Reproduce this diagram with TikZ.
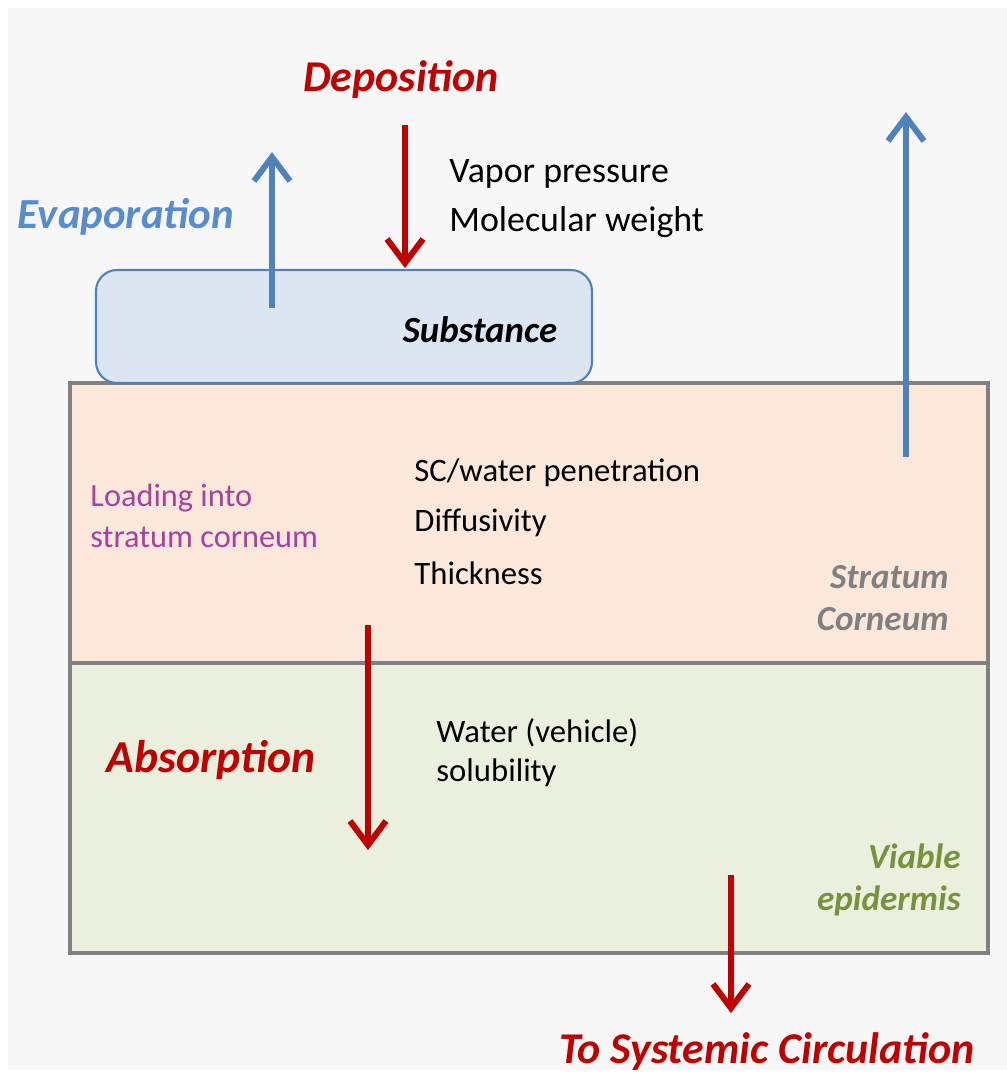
\documentclass[tikz,border=0pt]{standalone}
\usepackage{fontspec}
\setmainfont{Carlito}
\usepackage{xcolor}
\usetikzlibrary{arrows.meta}
\definecolor{panelgray}{RGB}{247,247,247}
\definecolor{deepred}{RGB}{192,0,0}
\definecolor{steelblue}{RGB}{79,129,189}
\definecolor{labelblue}{RGB}{88,140,205}
\definecolor{subfill}{RGB}{220,230,242}
\definecolor{scfill}{RGB}{252,232,218}
\definecolor{vefill}{RGB}{235,240,222}
\definecolor{edgegray}{RGB}{128,128,128}
\definecolor{plum}{RGB}{165,65,165}
\definecolor{olive}{RGB}{118,146,60}

\begin{document}
\begin{tikzpicture}[
    x=0.01cm, y=-0.01cm,
    layer/.style={draw=edgegray, line width=1.3pt},
    flow/.style={-{Straight Barb[length=2.4mm, width=3.6mm]}, line width=1.7pt},
    title/.style={font=\fontsize{12.5}{14}\selectfont\bfseries\itshape},
    factor/.style={font=\fontsize{10.2}{12}\selectfont, anchor=west},
    tag/.style={font=\fontsize{10}{12}\selectfont\bfseries\itshape, align=right, anchor=east}
]

% Canvas
\useasboundingbox (0,0) rectangle (1007,1078);
\fill[white] (0,0) rectangle (1007,1078);
\fill[panelgray] (8,8) rectangle (1007,1070);

% Skin layers
\draw[layer, fill=scfill] (70,383) rectangle (988,663);
\draw[layer, fill=vefill] (70,663) rectangle (988,953);

% Substance on the surface
\draw[steelblue, line width=0.6pt, fill=subfill, rounded corners=6pt] (96,270) rectangle (592,383);
\node[font=\fontsize{10.5}{12}\selectfont\bfseries\itshape] (substance) at (480,330) {Substance};

% Top labels
\node[title, deepred] (deposition) at (401,80) {Deposition};
\node[title, deepred, labelblue, font=\fontsize{12.2}{14}\selectfont\bfseries\itshape] (evaporation) at (126,217) {Evaporation};
\node[factor] (vapor) at (437,174) {Vapor pressure};
\node[factor] (weight) at (437,222) {Molecular weight};

% Stratum corneum labels
\node[font=\fontsize{9.2}{11.5}\selectfont, text=plum, align=left, anchor=west] (loading) at (78,516) {Loading into\\stratum corneum};
\node[factor, font=\fontsize{9.3}{11}\selectfont] (scwater) at (402,473) {SC/water penetration};
\node[factor, font=\fontsize{9.3}{11}\selectfont] (diffusivity) at (402,523) {Diffusivity};
\node[factor, font=\fontsize{9.3}{11}\selectfont] (thickness) at (402,573) {Thickness};
\node[tag, text=edgegray] (sc) at (961,598) {Stratum\\Corneum};

% Viable epidermis labels
\node[title, deepred, font=\fontsize{13}{15}\selectfont\bfseries\itshape] (absorption) at (211,760) {Absorption};
\node[factor, font=\fontsize{9.3}{11}\selectfont, align=left] (solubility) at (424,753) {Water (vehicle)\\solubility};
\node[tag, text=olive] (ve) at (973,880) {Viable\\epidermis};

% Bottom label
\node[title, deepred, font=\fontsize{12.5}{14}\selectfont\bfseries\itshape] (systemic) at (767,1052) {To Systemic Circulation};

% Arrow ends
\coordinate (evapbot) at (272,308);
\coordinate (evaptop) at (272,152);
\coordinate (deptop) at (405,125);
\coordinate (depbot) at (405,268);
\coordinate (risebot) at (906,457);
\coordinate (risetop) at (906,112);
\coordinate (abstop) at (368,625);
\coordinate (absbot) at (368,850);
\coordinate (systop) at (731,875);
\coordinate (sysbot) at (731,1013);

% Arrows
\draw[flow, steelblue] (evapbot) -- (evaptop);
\draw[flow, deepred] (deptop) -- (depbot);
\draw[flow, steelblue] (risebot) -- (risetop);
\draw[flow, deepred] (abstop) -- (absbot);
\draw[flow, deepred] (systop) -- (sysbot);

\end{tikzpicture}
\end{document}
